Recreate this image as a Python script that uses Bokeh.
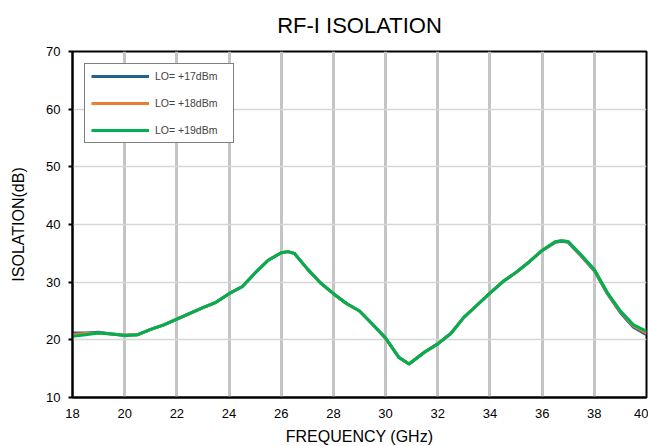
from bokeh.plotting import figure
from bokeh.models import Range1d, FixedTicker, Legend, LegendItem
from bokeh.embed import file_html
from bokeh.resources import INLINE

freq = [18.0, 18.5, 19.0, 19.5, 20.0, 20.5, 21.0, 21.5, 22.0, 22.5, 23.0, 23.5,
        24.0, 24.5, 25.0, 25.5, 26.0, 26.25, 26.5, 27.0, 27.5, 28.0, 28.5, 29.0,
        29.5, 30.0, 30.5, 30.9, 31.5, 32.0, 32.5, 33.0, 33.5, 34.0, 34.5, 35.0,
        35.5, 36.0, 36.5, 36.75, 37.0, 37.5, 38.0, 38.5, 39.0, 39.5, 40.0]

iso_17 = [21.2, 21.2, 21.3, 21.0, 20.8, 20.9, 21.8, 22.6, 23.6, 24.6, 25.6, 26.5,
          28.0, 29.2, 31.6, 33.8, 35.1, 35.3, 35.0, 32.3, 29.9, 28.0, 26.3, 25.0,
          22.7, 20.3, 17.0, 15.8, 17.9, 19.3, 21.1, 23.9, 26.0, 28.1, 30.1, 31.7,
          33.5, 35.5, 36.9, 37.1, 36.9, 34.5, 32.0, 28.0, 24.7, 22.2, 20.9]

iso_18 = [20.9, 21.1, 21.2, 21.0, 20.8, 20.9, 21.8, 22.6, 23.6, 24.6, 25.6, 26.5,
          28.0, 29.2, 31.6, 33.8, 35.1, 35.3, 35.0, 32.3, 29.9, 28.0, 26.3, 25.0,
          22.7, 20.3, 17.0, 15.8, 17.9, 19.3, 21.1, 23.9, 26.0, 28.1, 30.1, 31.7,
          33.5, 35.5, 37.0, 37.2, 37.0, 34.6, 32.1, 28.1, 24.9, 22.4, 21.2]

iso_19 = [20.6, 20.9, 21.2, 21.0, 20.75, 20.9, 21.8, 22.6, 23.6, 24.6, 25.6, 26.5,
          28.0, 29.2, 31.6, 33.8, 35.1, 35.3, 35.0, 32.3, 29.9, 28.0, 26.3, 25.0,
          22.7, 20.3, 17.0, 15.8, 17.9, 19.3, 21.1, 23.9, 26.0, 28.1, 30.1, 31.7,
          33.5, 35.5, 37.0, 37.2, 37.05, 34.7, 32.2, 28.2, 25.0, 22.6, 21.5]

labels = ["LO= +17dBm", "LO= +18dBm", "LO= +19dBm"]
colors = ["#1F6391", "#ED7D31", "#00B050"]
x_ticks = [18, 20, 22, 24, 26, 28, 30, 32, 34, 36, 38, 40]
y_ticks = [10, 20, 30, 40, 50, 60, 70]

FONT = "Liberation Sans"

p = figure(frame_width=574, frame_height=346, output_backend="svg",
           toolbar_location=None, x_range=Range1d(18, 40), y_range=Range1d(10, 70),
           title="RF-I ISOLATION",
           min_border_left=72, min_border_right=2, min_border_top=51,
           min_border_bottom=49)

p.title.text_font = FONT
p.title.text_font_size = "22px"
p.title.text_font_style = "normal"
p.title.align = "center"
p.title.vertical_align = "top"
p.title.text_color = "#000000"
p.title.standoff = 24

p.outline_line_color = "black"
p.outline_line_width = 2
p.outline_line_alpha = 1

p.xaxis.ticker = FixedTicker(ticks=x_ticks)
p.yaxis.ticker = FixedTicker(ticks=y_ticks)
for ax in (p.xaxis, p.yaxis):
    ax.axis_line_color = "black"
    ax.axis_line_width = 2
    ax.major_label_text_font = FONT
    ax.major_label_text_font_size = "13px"
    ax.major_label_text_color = "#000000"
    ax.axis_label_text_font = FONT
    ax.axis_label_text_font_size = "16px"
    ax.axis_label_text_font_style = "normal"
    ax.axis_label_text_color = "#000000"
    ax.minor_tick_line_color = None

p.xaxis.major_tick_line_color = None
p.xaxis.major_label_standoff = 5
p.xaxis.axis_label = "FREQUENCY (GHz)"
p.xaxis.axis_label_standoff = 7

p.yaxis.major_tick_line_color = "black"
p.yaxis.major_tick_line_width = 2
p.yaxis.major_tick_out = 4
p.yaxis.major_tick_in = 0
p.yaxis.major_label_standoff = 8
p.yaxis.axis_label = "ISOLATION(dB)"
p.yaxis.axis_label_standoff = 16

p.xgrid.grid_line_color = "#c4c4c4"
p.xgrid.grid_line_width = 3
p.ygrid.grid_line_color = "#d6d6d6"
p.ygrid.grid_line_width = 1.5

series = [iso_17, iso_18, iso_19]
renderers = []
for ys, c in zip(series, colors):
    r = p.line(freq, ys, line_color=c, line_width=3)
    renderers.append(r)

legend = Legend(items=[LegendItem(label=l, renderers=[r]) for l, r in zip(labels, renderers)],
                location="top_left", margin=12, padding=6,
                border_line_color="black", border_line_width=1.5,
                background_fill_color="white", background_fill_alpha=1,
                label_text_font=FONT, label_text_font_size="10.5px",
                glyph_width=58, glyph_height=10, label_height=10,
                label_width=72, label_standoff=6, spacing=15)
p.add_layout(legend)

open("out.html", "w").write(file_html(p, INLINE))
